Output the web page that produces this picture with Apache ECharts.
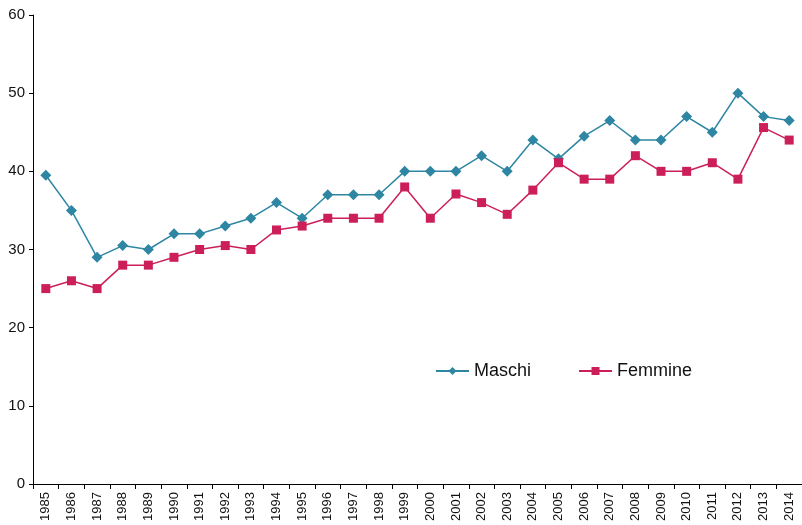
<!DOCTYPE html>
<html>
<head>
<meta charset="utf-8">
<script src="https://cdn.jsdelivr.net/npm/echarts@6/dist/echarts.min.js"></script>
<style>html,body{margin:0;padding:0;background:#fff}#c{width:802px;height:525px}</style>
</head>
<body>
<div id="c"></div>
<script>
const years = ['1985','1986','1987','1988','1989','1990','1991','1992','1993','1994','1995','1996','1997','1998','1999','2000','2001','2002','2003','2004','2005','2006','2007','2008','2009','2010','2011','2012','2013','2014'];
const maschi = [39.5,35,29,30.5,30,32,32,33,34,36,34,37,37,37,40,40,40,42,40,44,41.6,44.5,46.5,44,44,47,45,50,47,46.5];
const femmine = [25,26,25,28,28,29,30,30.5,30,32.5,33,34,34,34,38,34,37.1,36,34.5,37.6,41.1,39,39,42,40,40,41.1,39,45.6,44];
const yTicks = [0,10,20,30,40,50,60];

const chart = echarts.init(document.getElementById('c'), null, {renderer:'canvas'});
chart.setOption({
  animation:false,
  backgroundColor:'#fff',
  textStyle:{fontFamily:'Liberation Sans, Arial, sans-serif'},
  grid:{left:33, top:15, width:772, height:469, containLabel:false},
  legend:{
    left:430, top:357, itemGap:47, itemWidth:33, itemHeight:10,
    textStyle:{fontSize:18, color:'#111', fontFamily:'Liberation Sans, Arial, sans-serif'},
    data:['Maschi','Femmine']
  },
  xAxis:{
    type:'category', data:years, boundaryGap:true,
    axisLine:{lineStyle:{color:'#000', width:1}},
    axisTick:{show:true, length:5, lineStyle:{color:'#000'}},
    axisLabel:{rotate:90, fontSize:13, color:'#111', margin:8, interval:0}
  },
  yAxis:{
    type:'value', min:yTicks[0], max:yTicks[yTicks.length-1], interval:10,
    axisLine:{show:true, lineStyle:{color:'#000', width:1}},
    axisTick:{show:true, length:4, lineStyle:{color:'#000'}},
    axisLabel:{fontSize:15, color:'#111', margin:8},
    splitLine:{show:false}
  },
  series:[
    {name:'Maschi', type:'line', data:maschi, symbol:'diamond', symbolSize:11,
     lineStyle:{color:'#2E86A3', width:1.5}, itemStyle:{color:'#2E86A3'}},
    {name:'Femmine', type:'line', data:femmine, symbol:'rect', symbolSize:9,
     lineStyle:{color:'#CC1F5A', width:1.5}, itemStyle:{color:'#CC1F5A'}}
  ]
});
</script>
</body>
</html>
